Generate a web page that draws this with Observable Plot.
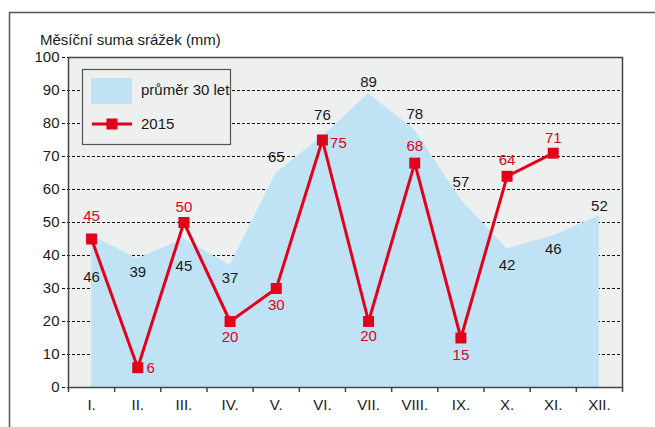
<!DOCTYPE html>
<html>
<head>
<meta charset="utf-8">
<script src="https://cdn.jsdelivr.net/npm/d3@7"></script>
<script src="https://cdn.jsdelivr.net/npm/@observablehq/plot@0.6"></script>
<style>
  html, body { margin: 0; padding: 0; background: #fff; }
  #chart { position: relative; width: 655px; height: 427px; overflow: hidden; }
  #chart svg, #chart svg text { font-stretch: condensed; }
</style>
</head>
<body>
<div id="chart"></div>
<script>
// ---- data ----
const months = ["I.", "II.", "III.", "IV.", "V.", "VI.", "VII.", "VIII.", "IX.", "X.", "XI.", "XII."];
const avg30 = [46, 39, 45, 37, 65, 76, 89, 78, 57, 42, 46, 52];
const rain2015 = [45, 6, 50, 20, 30, 75, 20, 68, 15, 64, 71];
const yTicks = [0, 10, 20, 30, 40, 50, 60, 70, 80, 90, 100];
const title = "Měsíční suma srážek (mm)";
const legendAvg = "průměr 30 let";
const legend2015 = "2015";

// label offsets (px)
const avgDy = [41, 13, 27, 13, -16, -22, -12, -16, -17, 16, 13, -10];
const redDx = [0, 13, 0, 0, 0, 16, 0, 0, 0, 0, 0];
const redDy = [-23, 0, -15, 16, 17, 3, 15, -17, 17, -16, -15];

const FONT = '"Liberation Sans", Arial, sans-serif';
const FS = 15;
const RED = "#e2001a";
const BLUE = "#bfe3f5";
const GRAY = "#eeefef";
const INK = "#1a1a1a";

const rowsAvg = avg30.map((v, i) => ({m: i + 1, v}));
const rows2015 = rain2015.map((v, i) => ({m: i + 1, v}));
const bounds = d3.range(0, 13).map(i => i + 0.5);
const centers = months.map((_, i) => i + 1);

const avgLabels = avg30.map((v, i) =>
  Plot.text([i], {x: i => i + 1, y: i => avg30[i], text: i => String(avg30[i]), dy: avgDy[i], fill: INK})
);
const redLabels = rain2015.map((v, i) =>
  Plot.text([i], {x: i => i + 1, y: i => rain2015[i], text: i => String(rain2015[i]), dx: redDx[i], dy: redDy[i], fill: RED})
);

const svg = Plot.plot({
  width: 655,
  height: 427,
  marginLeft: 68,
  marginRight: 33,
  marginTop: 57,
  marginBottom: 40,
  style: {fontFamily: FONT, fontSize: FS + "px", background: "#fff", color: INK},
  x: {type: "linear", domain: [0.5, 12.5], axis: null},
  y: {domain: [0, 100], axis: null},
  marks: [
    Plot.frame({fill: GRAY, stroke: "none"}),
    Plot.ruleY(yTicks, {stroke: "#111", strokeDasharray: "3,2", insetLeft: -6, strokeWidth: 1}),
    Plot.areaY(rowsAvg, {x: "m", y: "v", fill: BLUE}),
    Plot.frame({stroke: "#444", strokeWidth: 1.5}),
    Plot.axisX(bounds, {tickSize: 5, tickFormat: () => "", label: null, stroke: "#444", strokeWidth: 1.5}),
    Plot.axisX(centers, {tickSize: 0, tickPadding: 12, label: null, tickFormat: d => months[d - 1], fill: INK}),
    Plot.axisY(yTicks, {tickSize: 0, tickPadding: 9, label: null, fill: INK}),
    Plot.lineY(rows2015, {x: "m", y: "v", stroke: RED, strokeWidth: 3}),
    Plot.dot(rows2015, {x: "m", y: "v", symbol: "square", r: 6.2, fill: RED}),
    ...avgLabels,
    ...redLabels
  ]
});

document.getElementById("chart").appendChild(svg);

// outer frame, title and legend
const s = d3.select(svg);
s.insert("rect", ":first-child")
  .attr("x", 9.5).attr("y", 12.5).attr("width", 800).attr("height", 600)
  .attr("fill", "none").attr("stroke", "#555").attr("stroke-width", 1.5);
s.append("text")
  .attr("x", 40).attr("y", 45).attr("text-anchor", "start")
  .attr("font-family", FONT).attr("font-size", FS).attr("fill", INK)
  .text(title);

const lg = s.append("g").attr("font-family", FONT).attr("font-size", FS).attr("fill", INK).attr("text-anchor", "start");
lg.append("rect").attr("x", 82.5).attr("y", 69.5).attr("width", 148).attr("height", 75)
  .attr("fill", GRAY).attr("stroke", "#555").attr("stroke-width", 1.2);
lg.append("rect").attr("x", 91).attr("y", 78).attr("width", 41).attr("height", 26).attr("fill", BLUE);
lg.append("line").attr("x1", 92).attr("x2", 132).attr("y1", 124).attr("y2", 124)
  .attr("stroke", RED).attr("stroke-width", 3);
lg.append("rect").attr("x", 106.5).attr("y", 118.5).attr("width", 11).attr("height", 11).attr("fill", RED);
lg.append("text").attr("x", 141).attr("y", 95).text(legendAvg);
lg.append("text").attr("x", 141).attr("y", 129).text(legend2015);
</script>
</body>
</html>
